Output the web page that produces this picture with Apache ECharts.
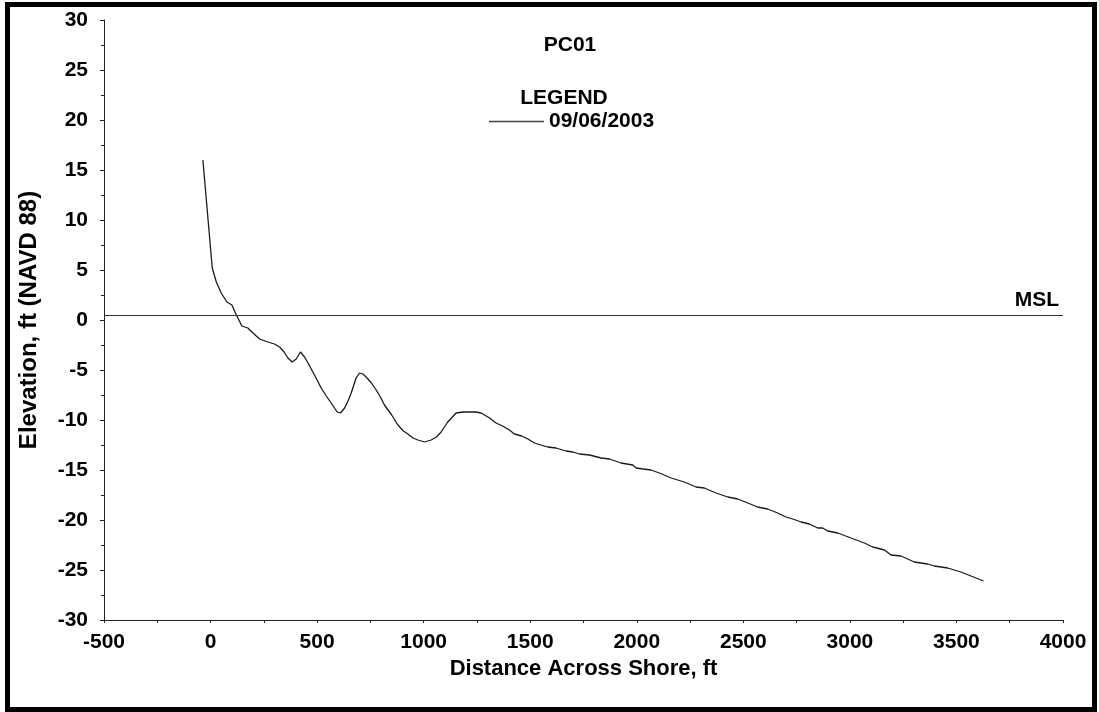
<!DOCTYPE html>
<html>
<head>
<meta charset="utf-8">
<script src="https://cdn.jsdelivr.net/npm/echarts@6/dist/echarts.min.js"></script>
<style>
html,body{margin:0;padding:0;background:#fff;}
#chart{width:1099px;height:712px;}
</style>
</head>
<body>
<div id="chart"></div>
<script>
// Profile PC01, survey 09/06/2003
const distance = [-36, 8, 27, 50, 77, 100, 121, 147, 175, 199, 230, 269, 300, 324, 345, 363, 383, 402, 422, 441, 460, 480, 500, 519, 543, 566, 594, 610, 629, 645, 660, 683, 699, 715, 730, 755, 777, 797, 816, 850, 879, 905, 926, 950, 973, 1004, 1035, 1060, 1082, 1113, 1152, 1185, 1215, 1245, 1270, 1309, 1340, 1370, 1402, 1426, 1460, 1489, 1520, 1550, 1582, 1621, 1668, 1700, 1731, 1778, 1833, 1872, 1926, 1981, 1997, 2030, 2067, 2106, 2161, 2223, 2278, 2317, 2372, 2427, 2474, 2521, 2567, 2614, 2661, 2700, 2732, 2771, 2810, 2849, 2872, 2896, 2943, 3005, 3068, 3107, 3162, 3193, 3240, 3302, 3365, 3396, 3459, 3521, 3568, 3627];
const elevation = [16.0, 5.2, 3.8, 2.7, 1.8, 1.5, 0.5, -0.6, -0.8, -1.3, -1.9, -2.2, -2.4, -2.7, -3.2, -3.8, -4.2, -3.9, -3.2, -3.7, -4.4, -5.2, -6.0, -6.8, -7.6, -8.3, -9.2, -9.3, -8.8, -8.1, -7.3, -5.8, -5.3, -5.4, -5.7, -6.3, -7.0, -7.7, -8.5, -9.5, -10.5, -11.1, -11.4, -11.8, -12.0, -12.2, -12.0, -11.7, -11.2, -10.2, -9.3, -9.2, -9.2, -9.2, -9.3, -9.8, -10.3, -10.6, -11.0, -11.4, -11.6, -11.9, -12.3, -12.5, -12.7, -12.8, -13.1, -13.2, -13.4, -13.5, -13.8, -13.9, -14.3, -14.5, -14.8, -14.9, -15.0, -15.3, -15.8, -16.2, -16.7, -16.8, -17.3, -17.7, -17.9, -18.3, -18.7, -18.9, -19.3, -19.7, -19.9, -20.2, -20.4, -20.8, -20.8, -21.1, -21.3, -21.8, -22.3, -22.7, -23.0, -23.5, -23.6, -24.2, -24.4, -24.6, -24.8, -25.2, -25.6, -26.1];
const mslElevation = 0.5;
const chartTitle = 'PC01';
const legendHeading = 'LEGEND';
const seriesName = '09/06/2003';
const xAxisName = 'Distance Across Shore, ft';
const yAxisName = 'Elevation, ft (NAVD 88)';

const profile = distance.map((d, i) => [d, elevation[i]]);
const FONT = '"Liberation Sans", Arial, sans-serif';

const chart = echarts.init(document.getElementById('chart'), null, {renderer: 'canvas'});
chart.setOption({
  backgroundColor: '#ffffff',
  animation: false,
  title: [
    {text: chartTitle, left: 565, top: 30, textAlign: 'center',
     textStyle: {fontFamily: FONT, fontWeight: 'bold', fontSize: 21, color: '#000'}},
    {text: legendHeading, left: 559, top: 83, textAlign: 'center',
     textStyle: {fontFamily: FONT, fontWeight: 'bold', fontSize: 21, color: '#000'}}
  ],
  legend: {
    left: 489, top: 111, padding: 0,
    itemWidth: 55, itemHeight: 1.5, icon: 'rect',
    data: [{name: seriesName, itemStyle: {color: '#444'}}],
    textStyle: {fontFamily: FONT, fontWeight: 'bold', fontSize: 21, color: '#000'}
  },
  grid: {left: 104, right: 36, top: 20, bottom: 92, containLabel: false},
  xAxis: {
    type: 'value', min: -500, max: 4000, interval: 500,
    name: xAxisName, nameLocation: 'middle', nameGap: 37,
    nameTextStyle: {fontFamily: FONT, fontWeight: 'bold', fontSize: 22, color: '#000'},
    axisLine: {show: true, onZero: false, lineStyle: {color: '#222', width: 1}},
    axisTick: {show: true, inside: false, length: 3, lineStyle: {color: '#222'}},
    minorTick: {show: true, splitNumber: 2, length: 3, lineStyle: {color: '#222'}},
    splitLine: {show: false},
    axisLabel: {margin: 12, fontFamily: FONT, fontWeight: 'bold', fontSize: 21, color: '#000',
                formatter: v => String(v)}
  },
  yAxis: {
    type: 'value', min: -30, max: 30, interval: 5,
    name: yAxisName, nameLocation: 'middle', nameGap: 63, nameRotate: 90,
    nameTextStyle: {fontFamily: FONT, fontWeight: 'bold', fontSize: 24, color: '#000'},
    axisLine: {show: true, onZero: false, lineStyle: {color: '#222', width: 1}},
    axisTick: {show: true, inside: false, length: 4, lineStyle: {color: '#222'}},
    minorTick: {show: true, splitNumber: 2, length: 3, lineStyle: {color: '#222'}},
    splitLine: {show: false},
    axisLabel: {margin: 16, fontFamily: FONT, fontWeight: 'bold', fontSize: 21, color: '#000',
                formatter: v => String(v)}
  },
  series: [{
    name: seriesName,
    type: 'line',
    data: profile,
    showSymbol: false,
    symbol: 'none',
    smooth: false,
    lineStyle: {color: '#1a1a1a', width: 1.3},
    itemStyle: {color: '#1a1a1a'},
    markLine: {
      silent: true,
      symbol: ['none', 'none'],
      lineStyle: {color: '#333', width: 1.2, type: 'solid'},
      label: {show: true, position: 'insideEndTop', formatter: 'MSL', distance: [4, 4],
              fontFamily: FONT, fontWeight: 'bold', fontSize: 21, color: '#000'},
      data: [{yAxis: mslElevation}]
    }
  }],
  graphic: [{
    type: 'rect', silent: true, z: 100,
    shape: {x: 7.5, y: 4.5, width: 1087, height: 705},
    style: {fill: 'none', stroke: '#000', lineWidth: 5}
  }]
});
</script>
</body>
</html>
